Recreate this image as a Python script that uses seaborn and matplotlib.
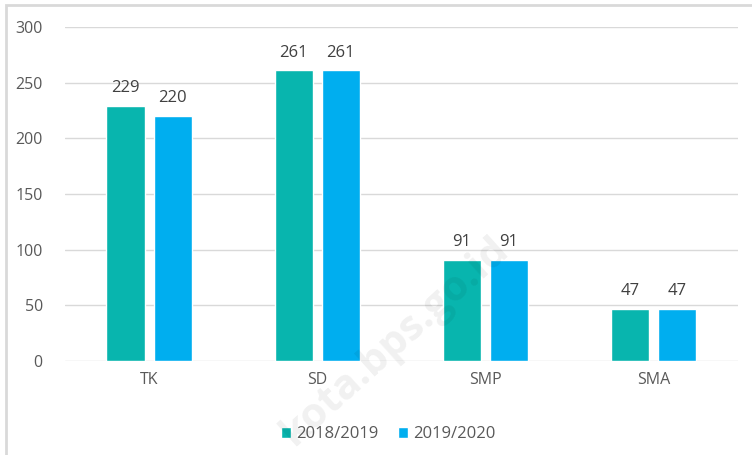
import matplotlib
matplotlib.use("Agg")
import matplotlib.pyplot as plt
import seaborn as sns
import pandas as pd
from matplotlib.patches import Rectangle

categories = ["TK", "SD", "SMP", "SMA"]
series_names = ["2018/2019", "2019/2020"]
values_2018 = [229, 261, 91, 47]
values_2019 = [220, 261, 91, 47]
colors = ["#08B5AE", "#00AEEF"]

df = pd.DataFrame({
    "cat": categories * 2,
    "year": [series_names[0]] * 4 + [series_names[1]] * 4,
    "val": values_2018 + values_2019,
})

sns.set_theme(style="white")
plt.rcParams["font.family"] = ["Open Sans", "DejaVu Sans"]

fig = plt.figure(figsize=(7.52, 4.55), dpi=100)
ax = fig.add_axes([0.0864, 0.2066, 0.8946, 0.7341])

sns.barplot(data=df, x="cat", y="val", hue="year", palette=colors,
            width=0.56, gap=0.19, ax=ax, legend=True, saturation=1)

ax.set_ylim(0, 300)
ax.set_xlim(-0.5, 3.5)
ax.set_yticks(range(0, 301, 50))
ax.yaxis.grid(True, color="#D9D9D9", linewidth=1)
ax.set_axisbelow(True)
for s in ax.spines.values():
    s.set_visible(False)
ax.set_xlabel("")
ax.set_ylabel("")
ax.tick_params(axis="both", length=0, labelsize=11.5, colors="#595959", pad=8)
ax.tick_params(axis="y", pad=16)

for cont in ax.containers:
    ax.bar_label(cont, padding=7, fontsize=12, color="#404040")

handles, labels = ax.get_legend_handles_labels()
ax.legend(handles, labels, loc="upper center", bbox_to_anchor=(0.481, -0.15),
          ncol=2, frameon=False, fontsize=12, handlelength=0.6, handleheight=0.6,
          handletextpad=0.3, columnspacing=1.2, labelcolor="#595959")

# watermark
fig.text(0.525, 0.25, "kota.bps.go.id", rotation=42, fontsize=30, color="#000000",
         alpha=0.06, ha="center", va="center", fontweight="bold")

# outer border
fig.patches.append(Rectangle((0.008, -0.05), 1.1, 1.04, transform=fig.transFigure,
                             fill=False, edgecolor="#D9D9D9", linewidth=2))

fig.savefig("out.png", dpi=100)
